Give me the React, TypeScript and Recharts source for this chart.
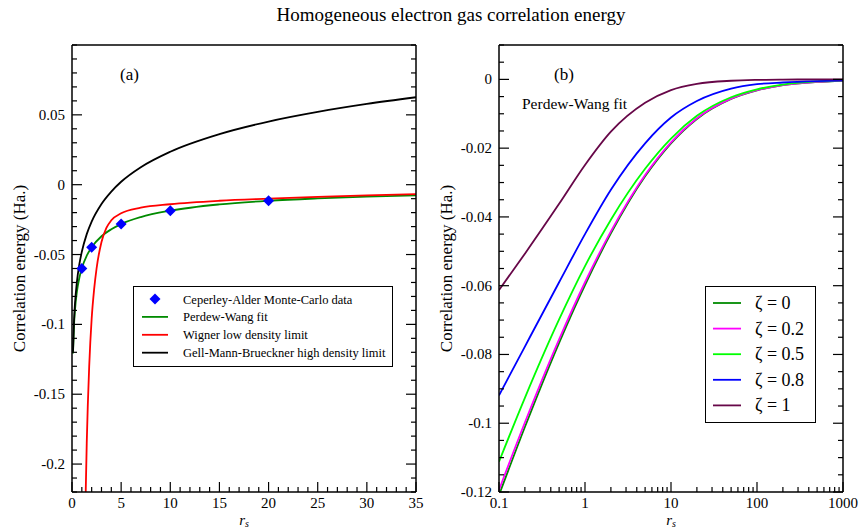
import React from "react";
import { ComposedChart, Line, Scatter, XAxis, YAxis, Legend } from "recharts";

const FONT = "'Liberation Serif', 'Times New Roman', serif";

// (a) correlation energy against r_s on linear axes (Hartree)
const rsCurve = [0.1, 0.2, 0.3, 0.5, 0.75, 1, 1.5, 2, 3, 4, 5, 7, 10, 15, 20, 25, 30, 35];
const perdewWang = [
  -0.1209, -0.1011, -0.09, -0.0766, -0.0666, -0.0598, -0.0508, -0.0448, -0.0369, -0.0319, -0.0282,
  -0.0232, -0.0186, -0.0141, -0.0115, -0.0098, -0.0085, -0.0076,
];
const gellMannBrueckner = [
  -0.1196, -0.0981, -0.0854, -0.0696, -0.0569, -0.048, -0.0354, -0.0264, -0.0138, -0.0049, 0.0021,
  0.0125, 0.0236, 0.0362, 0.0452, 0.0521, 0.0578, 0.0626,
];
const rsWigner = [1.35, 1.5, 1.75, 2, 2.25, 2.5, 3, 3.5, 4, 5, 7, 10, 15, 20, 25, 30, 35];
const wigner = [
  -0.235, -0.185, -0.13, -0.096, -0.075, -0.06, -0.041, -0.031, -0.0255, -0.0205, -0.0165, -0.014,
  -0.0115, -0.01, -0.0087, -0.0076, -0.0067,
];
const rsQmc = [1, 2, 5, 10, 20];
const ceperleyAlder = [-0.06, -0.0448, -0.0282, -0.0186, -0.0115];

// (b) Perdew-Wang fit for several spin polarisations, log r_s
const rsLog = [0.1, 0.2, 0.5, 1, 2, 5, 10, 20, 50, 100, 200, 500, 1000];
const zeta00 = [-0.1209, -0.1011, -0.0766, -0.0598, -0.0448, -0.0282, -0.0186, -0.0115, -0.0057, -0.0032, -0.0017, -0.00075, -0.00039];
const zeta02 = [-0.1194, -0.0998, -0.0756, -0.059, -0.0442, -0.0278, -0.0183, -0.0113, -0.0056, -0.00315, -0.00167, -0.00074, -0.00038];
const zeta05 = [-0.1112, -0.0926, -0.0698, -0.0543, -0.0408, -0.026, -0.0172, -0.0106, -0.0052, -0.0029, -0.0015, -0.0006, -0.0003];
const zeta08 = [-0.0919, -0.0777, -0.059, -0.045, -0.0321, -0.0186, -0.0111, -0.0063, -0.0027, -0.0014, -0.0009, -0.0005, -0.0003];
const zeta10 = [-0.0613, -0.0507, -0.0362, -0.0249, -0.0152, -0.0068, -0.0031, -0.0013, -0.0004, -0.00015, -0.00006, -0.00002, -0.00001];

const xMajorA = [0, 5, 10, 15, 20, 25, 30, 35];
const yMajorA = [-0.2, -0.15, -0.1, -0.05, 0, 0.05];
const xMajorB = [0.1, 1, 10, 100, 1000];
const yMajorB = [-0.12, -0.1, -0.08, -0.06, -0.04, -0.02, 0];

const keyA = [
  { name: "Ceperley-Alder Monte-Carlo data", color: "#0000ff", marker: true },
  { name: "Perdew-Wang fit", color: "#008b00" },
  { name: "Wigner low density limit", color: "#ff0000" },
  { name: "Gell-Mann-Brueckner high density limit", color: "#000000" },
];
const keyB = [
  { name: "ζ = 0", color: "#008b00", values: zeta00 },
  { name: "ζ = 0.2", color: "#ff00ff", values: zeta02 },
  { name: "ζ = 0.5", color: "#00ff00", values: zeta05 },
  { name: "ζ = 0.8", color: "#0000ff", values: zeta08 },
  { name: "ζ = 1", color: "#670748", values: zeta10 },
];

const zip = (xs: number[], ys: number[]) => xs.map((rs, i) => ({ rs, e: ys[i] }));

// minor tick positions: k / n for k in [from, to]
const steps = (from: number, to: number, n: number) => {
  const out: number[] = [];
  for (let k = from; k <= to; k++) out.push(k / n);
  return out;
};
const xTicksA = steps(0, 35, 1);
const yTicksA = steps(-22, 10, 100);
const yTicksB = steps(-24, 2, 200);
const xTicksB = [0.1, 1, 10, 100]
  .flatMap((d) => [1, 2, 3, 4, 5, 6, 7, 8, 9].map((m) => +(m * d).toPrecision(3)))
  .concat([1000]);

type Side = "top" | "bottom" | "left" | "right";

// inward ticks on every side of the frame, labels only on bottom/left
const FrameTick = (props: any) => {
  const { x, y, payload, side, majors } = props as { x: number; y: number; payload: any; side: Side; majors: number[] };
  const major = majors.find((m) => Math.abs(m - payload.value) < 1e-9);
  const len = major === undefined ? 5 : 10;
  const dx = side === "left" ? len : side === "right" ? -len : 0;
  const dy = side === "bottom" ? -len : side === "top" ? len : 0;
  return (
    <g>
      <line x1={x} y1={y} x2={x + dx} y2={y + dy} stroke="#000" strokeWidth={1.2} />
      {major !== undefined && side === "bottom" && (
        <text x={x} y={y + 15.5} textAnchor="middle" fontSize={15} fontFamily={FONT} fill="#000">
          {String(major)}
        </text>
      )}
      {major !== undefined && side === "left" && (
        <text x={x - 7} y={y + 5} textAnchor="end" fontSize={15} fontFamily={FONT} fill="#000">
          {String(major)}
        </text>
      )}
    </g>
  );
};

const RsTitle = (props: any) => {
  const { viewBox } = props;
  const cx = viewBox.x + viewBox.width / 2;
  return (
    <text x={cx} y={viewBox.y + 32.5} textAnchor="middle" fontFamily={FONT} fontSize={15} fontStyle="italic" fill="#000">
      r<tspan dy={2} fontSize={10}>s</tspan>
    </text>
  );
};

const EnergyTitle = (props: any) => {
  const { viewBox } = props;
  const cx = viewBox.x + viewBox.width - 53;
  const cy = viewBox.y + viewBox.height / 2;
  return (
    <text
      x={cx}
      y={cy}
      transform={`rotate(-90 ${cx} ${cy})`}
      textAnchor="middle"
      dominantBaseline="central"
      fontFamily={FONT}
      fontSize={17}
      fill="#000"
    >
      Correlation energy (Ha.)
    </text>
  );
};

const Diamond = (p: any) => (
  <polygon
    points={`${p.cx},${p.cy - 5.5} ${p.cx + 5.5},${p.cy} ${p.cx},${p.cy + 5.5} ${p.cx - 5.5},${p.cy}`}
    fill="#0000ff"
  />
);

const KeyA = () => (
  <svg width={260} height={81} style={{ display: "block" }}>
    <rect x={0.5} y={0.5} width={259} height={80} fill="#fff" stroke="#000" strokeWidth={1} />
    {keyA.map((k, i) => {
      const cy = 13 + i * 17.9;
      return (
        <g key={k.name}>
          {k.marker ? (
            <Diamond cx={22} cy={cy} />
          ) : (
            <line x1={9} x2={35} y1={cy} y2={cy} stroke={k.color} strokeWidth={1.8} />
          )}
          <text x={50} y={cy + 4.5} fontFamily={FONT} fontSize={12.5} fill="#000">
            {k.name}
          </text>
        </g>
      );
    })}
  </svg>
);

const KeyB = () => (
  <svg width={111} height={137} style={{ display: "block" }}>
    <rect x={0.5} y={0.5} width={110} height={136} fill="#fff" stroke="#000" strokeWidth={1} />
    {keyB.map((k, i) => {
      const cy = 17 + i * 25.6;
      return (
        <g key={k.name}>
          <line x1={8} x2={36} y1={cy} y2={cy} stroke={k.color} strokeWidth={1.8} />
          <text x={50} y={cy + 6} fontFamily={FONT} fontSize={18} fill="#000">
            {k.name}
          </text>
        </g>
      );
    })}
  </svg>
);

// every axis is 1px deep so that it is drawn; the frame is their axis lines
const frameLine = { stroke: "#000", strokeWidth: 1.5 };
const tickBase = { interval: 0 as const, tickSize: 0, tickMargin: 0, tickLine: false, axisLine: frameLine, allowDataOverflow: true };

const PanelA = () => (
  <ComposedChart width={430} height={529} margin={{ top: 44, right: 13, bottom: 36, left: 71 }}>
    <XAxis dataKey="rs" type="number" domain={[0, 35]} ticks={xTicksA} height={1} {...tickBase}
      tick={<FrameTick side="bottom" majors={xMajorA} />} label={<RsTitle />} />
    <XAxis xAxisId="top" orientation="top" type="number" domain={[0, 35]} ticks={xTicksA} height={1} {...tickBase}
      tick={<FrameTick side="top" majors={xMajorA} />} />
    <YAxis type="number" domain={[-0.22, 0.1]} ticks={yTicksA} width={1} {...tickBase}
      tick={<FrameTick side="left" majors={yMajorA} />} label={<EnergyTitle />} />
    <YAxis yAxisId="right" orientation="right" type="number" domain={[-0.22, 0.1]} ticks={yTicksA} width={1} {...tickBase}
      tick={<FrameTick side="right" majors={yMajorA} />} />
    <Line data={zip(rsCurve, perdewWang)} dataKey="e" name="Perdew-Wang fit" type="monotone" stroke="#008b00"
      strokeWidth={1.8} dot={false} isAnimationActive={false} />
    <Line data={zip(rsWigner, wigner)} dataKey="e" name="Wigner low density limit" type="monotone" stroke="#ff0000"
      strokeWidth={1.8} dot={false} isAnimationActive={false} />
    <Line data={zip(rsCurve, gellMannBrueckner)} dataKey="e" name="Gell-Mann-Brueckner high density limit" type="monotone"
      stroke="#000000" strokeWidth={1.8} dot={false} isAnimationActive={false} />
    <Scatter data={zip(rsQmc, ceperleyAlder)} dataKey="e" name="Ceperley-Alder Monte-Carlo data" fill="#0000ff"
      shape={Diamond} isAnimationActive={false} />
    <Legend layout="horizontal" verticalAlign="middle" align="center"
      wrapperStyle={{ left: 133, top: 286, width: 260, height: 81 }} content={() => <KeyA />} />
  </ComposedChart>
);

const PanelB = () => (
  <ComposedChart width={429} height={529} margin={{ top: 44, right: 15, bottom: 36, left: 68 }}>
    <XAxis dataKey="rs" type="number" scale="log" domain={[0.1, 1000]} ticks={xTicksB} height={1} {...tickBase}
      tick={<FrameTick side="bottom" majors={xMajorB} />} label={<RsTitle />} />
    <XAxis xAxisId="top" orientation="top" type="number" scale="log" domain={[0.1, 1000]} ticks={xTicksB} height={1}
      {...tickBase} tick={<FrameTick side="top" majors={xMajorB} />} />
    <YAxis type="number" domain={[-0.12, 0.01]} ticks={yTicksB} width={1} {...tickBase}
      tick={<FrameTick side="left" majors={yMajorB} />} label={<EnergyTitle />} />
    <YAxis yAxisId="right" orientation="right" type="number" domain={[-0.12, 0.01]} ticks={yTicksB} width={1}
      {...tickBase} tick={<FrameTick side="right" majors={yMajorB} />} />
    {keyB.map((k) => (
      <Line key={k.name} data={zip(rsLog, k.values)} dataKey="e" name={k.name} type="monotone" stroke={k.color}
        strokeWidth={1.8} dot={false} isAnimationActive={false} />
    ))}
    <Legend layout="horizontal" verticalAlign="middle" align="center"
      wrapperStyle={{ left: 275, top: 286, width: 111, height: 137 }} content={() => <KeyB />} />
  </ComposedChart>
);

export default function App() {
  return (
    <div style={{ position: "absolute", left: 0, top: 0, width: 859, height: 529, background: "#fff", fontFamily: FONT }}>
      <div style={{ position: "absolute", left: 0, top: 0 }}>
        <PanelA />
      </div>
      <div style={{ position: "absolute", left: 430, top: 0 }}>
        <PanelB />
      </div>
      <svg width={859} height={529} style={{ position: "absolute", left: 0, top: 0, pointerEvents: "none" }}>
        <text x={451} y={21} textAnchor="middle" fontFamily={FONT} fontSize={19} fill="#000">
          Homogeneous electron gas correlation energy
        </text>
        <text x={120} y={80} fontFamily={FONT} fontSize={17} fill="#000">(a)</text>
        <text x={554} y={80} fontFamily={FONT} fontSize={17} fill="#000">(b)</text>
        <text x={522} y={109} fontFamily={FONT} fontSize={15.5} fill="#000">Perdew-Wang fit</text>
      </svg>
    </div>
  );
}
